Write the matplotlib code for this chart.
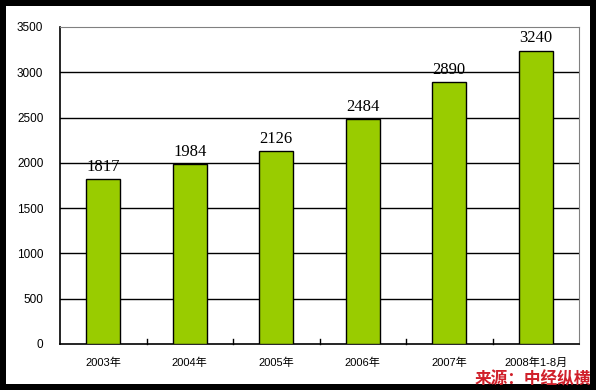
import matplotlib.pyplot as plt
from matplotlib.patches import Rectangle

# data
years = ["2003年", "2004年", "2005年", "2006年", "2007年", "2008年1-8月"]
values = [1817, 1984, 2126, 2484, 2890, 3240]
yticks = [0, 500, 1000, 1500, 2000, 2500, 3000, 3500]

plt.rcParams['font.family'] = ['Liberation Sans', 'Noto Sans CJK SC']

W, H = 596, 390
fig = plt.figure(figsize=(W / 100, H / 100), dpi=100)
fig.patch.set_facecolor('black')
# white inner panel inside the black frame
bg = fig.add_axes([6 / W, 6 / H, (590 - 6) / W, (384 - 6) / H])
bg.set_facecolor('white')
bg.set_axis_off()
bg.add_patch(Rectangle((0, 0), 1, 1, transform=bg.transAxes, facecolor='white', edgecolor='none'))

ax = fig.add_axes([60 / W, (H - 344) / H, (579 - 60) / W, (344 - 27) / H])
ax.set_zorder(2)
x = list(range(len(years)))
ax.bar(x, values, width=0.39, color='#99CC00', edgecolor='black', linewidth=1, zorder=3)

ax.set_xlim(-0.5, len(years) - 0.5)
ax.set_ylim(0, 3500)
ax.set_yticks(yticks)
ax.set_yticklabels([str(t) for t in yticks], fontsize=8.5)
ax.set_xticks(x)
ax.set_xticklabels(years, fontsize=8)
ax.tick_params(axis='x', length=0, pad=10)
ax.tick_params(axis='y', length=0, pad=12)

# category separator ticks on the x axis
for b in range(1, len(years)):
    ax.plot([b - 0.5, b - 0.5], [0, 50], color='black', linewidth=1, zorder=4, clip_on=False)

for t in yticks[1:-1]:
    ax.axhline(t, color='black', linewidth=1, zorder=1)

for s in ['top', 'right']:
    ax.spines[s].set_color('#808080')
for s in ['left', 'bottom']:
    ax.spines[s].set_color('black')
    ax.spines[s].set_linewidth(1.2)

for xi, v in zip(x, values):
    ax.text(xi, v + 45, str(v), ha='center', va='bottom', fontsize=12,
            family='Liberation Serif', zorder=5)

fig.text(591 / W, 1 - 379 / H, "来源：中经纵横", ha='right', va='center',
         fontsize=12, fontweight='bold', color='#d0202a',
         family=['Noto Sans CJK SC'], zorder=10)

fig.savefig('out.png', dpi=100, facecolor='black')
